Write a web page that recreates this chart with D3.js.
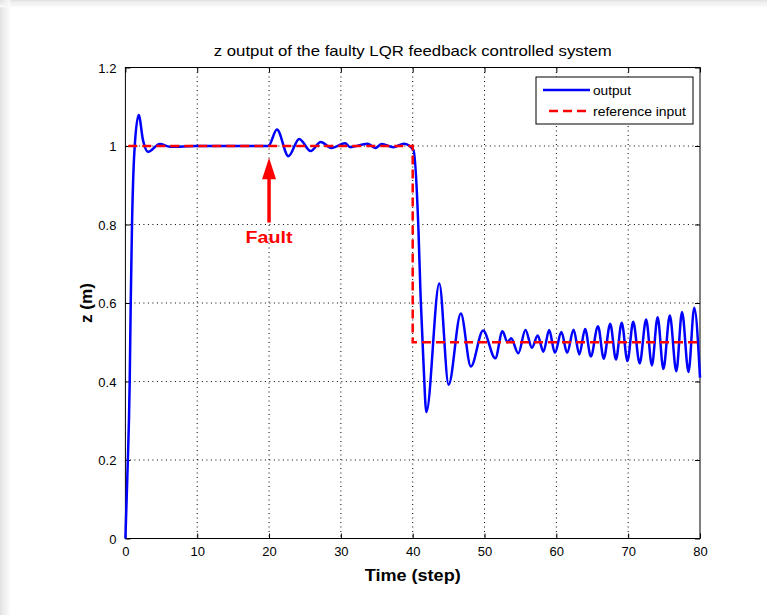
<!DOCTYPE html>
<html>
<head>
<meta charset="utf-8">
<script src="https://cdn.jsdelivr.net/npm/d3@7"></script>
<style>
  body { margin: 0; background: #fff; }
  svg { display: block; font-family: "Liberation Sans", Arial, sans-serif; }
</style>
</head>
<body>
<div class="chart"></div>
<script>
// output z (m), as [time, value]
const outputTime = [0, 0.27, 0.6, 0.74, 0.92, 1.15, 1.3, 1.85, 2.45, 3.15, 4.8, 6.2, 10, 15, 19.9,
    21.1, 22.7, 24.2, 25.8, 27.2, 28.7, 30.6, 31.3, 33.7, 34.8, 35.7, 37.3, 38.8, 40.1,
    40.8, 41.1, 41.5, 41.9, 43.7, 45.0, 46.7, 48.1, 49.8, 51.5, 52.5, 53.2, 53.7, 54.7,
    55.7, 56.6, 57.4, 58.2, 59.0, 59.8, 60.7, 61.5, 62.4, 63.2, 64.0, 64.8, 65.8, 66.6,
    67.5, 68.3, 69.1, 69.9, 70.7, 71.6, 72.5, 73.3, 74.1, 74.9, 75.8, 76.7, 77.5, 78.4,
    79.2, 80];
const outputValue = [0, 0.158, 0.4, 0.6, 0.8, 0.948, 1.0, 1.079, 1.015, 0.985, 1.005, 0.998, 1.0, 1.0, 1.0,
    1.042, 0.974, 1.018, 0.987, 1.01, 0.995, 1.007, 0.997, 1.006, 0.995, 1.005, 0.997, 1.006, 0.99,
    0.787, 0.617, 0.448, 0.322, 0.650, 0.392, 0.573, 0.438, 0.530, 0.459, 0.528, 0.50, 0.51, 0.472,
    0.531, 0.486, 0.517, 0.476, 0.531, 0.473, 0.526, 0.473, 0.532, 0.469, 0.534, 0.464, 0.541, 0.458,
    0.547, 0.456, 0.550, 0.452, 0.552, 0.446, 0.558, 0.441, 0.564, 0.432, 0.568, 0.426, 0.577, 0.424,
    0.588, 0.41];

// reference input step
const refTime = [0.4, 40, 40, 80];
const refValue = [1, 1, 0.5, 0.5];

const xTicks = [0, 10, 20, 30, 40, 50, 60, 70, 80];
const yTicks = [0, 0.2, 0.4, 0.6, 0.8, 1, 1.2];

const faultTime = 20;

const W = 767, H = 615;
const margin = ({top: 67.5, right: 67, bottom: 76.5, left: 125.4});
const width = W - margin.left - margin.right;
const height = H - margin.top - margin.bottom;

const root = d3.select(".chart")
    .append("svg")
    .attr("width", W)
    .attr("height", H);

// page frame (light grey edges at left and top)
const edge = ["#e2e2e2", "#e8e8e8", "#ededed", "#f2f2f2", "#f6f6f6", "#fafafa"];
edge.forEach((c, i) => {
    root.append("rect").attr("x", 0).attr("y", i * 1.2).attr("width", W).attr("height", 1.3).attr("fill", c);
    root.append("rect").attr("x", i * 1.7).attr("y", 0).attr("width", 1.8).attr("height", H).attr("fill", c);
});

const svg = root.append("g")
    .attr("transform", `translate(${margin.left},${margin.top})`);

const xScale = d3.scaleLinear().domain([0, 80]).range([0, width]);
const yScale = d3.scaleLinear().domain([0, 1.2]).range([height, 0]);

// grid
svg.append("g").selectAll("line")
    .data(xTicks.slice(1, -1))
    .enter().append("line")
    .attr("x1", d => xScale(d)).attr("x2", d => xScale(d))
    .attr("y1", 0).attr("y2", height)
    .attr("stroke", "#000").attr("stroke-width", 1)
    .attr("stroke-dasharray", "1,3.5");

svg.append("g").selectAll("line")
    .data(yTicks.slice(1, -1))
    .enter().append("line")
    .attr("x1", 0).attr("x2", width)
    .attr("y1", d => yScale(d)).attr("y2", d => yScale(d))
    .attr("stroke", "#000").attr("stroke-width", 1)
    .attr("stroke-dasharray", "1,3.5");

// axes, ticks inside like matlab
const xAxis = d3.axisBottom(xScale).tickValues(xTicks).tickSizeInner(-5).tickSizeOuter(0).tickPadding(8);
const yAxis = d3.axisLeft(yScale).tickValues(yTicks).tickSizeInner(-5).tickSizeOuter(0).tickPadding(9)
    .tickFormat(d => d3.format("~g")(d));

const xg = svg.append("g").attr("transform", `translate(0,${height})`).call(xAxis);
const yg = svg.append("g").call(yAxis);
svg.append("g").call(d3.axisTop(xScale).tickValues(xTicks).tickSizeInner(-5).tickSizeOuter(0).tickFormat(""));
svg.append("g").attr("transform", `translate(${width},0)`)
    .call(d3.axisRight(yScale).tickValues(yTicks).tickSizeInner(-5).tickSizeOuter(0).tickFormat(""));

svg.selectAll(".domain").remove();
svg.selectAll(".tick line").attr("stroke", "#000");
[xg, yg].forEach(g => g.selectAll("text")
    .attr("font-size", 13).attr("fill", "#000")
    .attr("font-family", "'Liberation Sans', Arial, sans-serif"));
yg.selectAll("text").attr("dy", "0.35em");

svg.append("rect")
    .attr("width", width).attr("height", height)
    .attr("fill", "none").attr("stroke", "#000").attr("stroke-width", 1);

// lines
const outputData = outputTime.map((t, i) => ({t: t, v: outputValue[i]}));
const refData = refTime.map((t, i) => ({t: t, v: refValue[i]}));

const smooth = d3.line().x(d => xScale(d.t)).y(d => yScale(d.v)).curve(d3.curveMonotoneX);
const straight = d3.line().x(d => xScale(d.t)).y(d => yScale(d.v));

svg.append("path")
    .datum(outputData)
    .attr("fill", "none")
    .attr("stroke", "#0000ff")
    .attr("stroke-width", 2.5)
    .attr("stroke-linejoin", "round")
    .attr("d", smooth);

svg.append("path")
    .datum(refData)
    .attr("fill", "none")
    .attr("stroke", "#ff0000")
    .attr("stroke-width", 2.5)
    .attr("stroke-dasharray", "9,5")
    .attr("d", straight);

// fault arrow
const fx = xScale(faultTime);
svg.append("line")
    .attr("x1", fx).attr("x2", fx)
    .attr("y1", yScale(0.92)).attr("y2", yScale(0.805))
    .attr("stroke", "#ff0000").attr("stroke-width", 3.5);
svg.append("path")
    .attr("d", `M${fx},${yScale(0.97)} L${fx - 7},${yScale(0.915)} L${fx + 7},${yScale(0.915)} Z`)
    .attr("fill", "#ff0000");
svg.append("text")
    .attr("x", fx).attr("y", yScale(0.752))
    .attr("text-anchor", "middle")
    .attr("font-size", 16).attr("font-weight", "bold")
    .attr("textLength", 47).attr("lengthAdjust", "spacingAndGlyphs")
    .attr("fill", "#ff0000")
    .text("Fault");

// legend
const lg = svg.append("g").attr("transform", `translate(${536 - margin.left},${77 - margin.top})`);
lg.append("rect").attr("width", 157).attr("height", 47)
    .attr("fill", "#fff").attr("stroke", "#000").attr("stroke-width", 1);
lg.append("line").attr("x1", 7).attr("x2", 54).attr("y1", 13).attr("y2", 13)
    .attr("stroke", "#0000ff").attr("stroke-width", 2.5);
lg.append("line").attr("x1", 13).attr("x2", 54).attr("y1", 34).attr("y2", 34)
    .attr("stroke", "#ff0000").attr("stroke-width", 2.5).attr("stroke-dasharray", "9,5");
lg.append("text").attr("x", 57).attr("y", 18).attr("font-size", 13)
    .attr("textLength", 38).attr("lengthAdjust", "spacingAndGlyphs").text("output");
lg.append("text").attr("x", 57).attr("y", 39).attr("font-size", 13)
    .attr("textLength", 93).attr("lengthAdjust", "spacingAndGlyphs").text("reference input");

// titles
svg.append("text")
    .attr("x", width / 2).attr("y", -12)
    .attr("text-anchor", "middle")
    .attr("font-size", 15)
    .attr("textLength", 398).attr("lengthAdjust", "spacingAndGlyphs")
    .text("z output of the faulty LQR feedback controlled system");

svg.append("text")
    .attr("x", width / 2).attr("y", height + 42)
    .attr("text-anchor", "middle")
    .attr("font-size", 16).attr("font-weight", "bold")
    .attr("textLength", 96).attr("lengthAdjust", "spacingAndGlyphs")
    .text("Time (step)");

svg.append("text")
    .attr("transform", `translate(-33,${height / 2}) rotate(-90)`)
    .attr("text-anchor", "middle")
    .attr("font-size", 16).attr("font-weight", "bold")
    .attr("textLength", 40).attr("lengthAdjust", "spacingAndGlyphs")
    .text("z (m)");
</script>
</body>
</html>
